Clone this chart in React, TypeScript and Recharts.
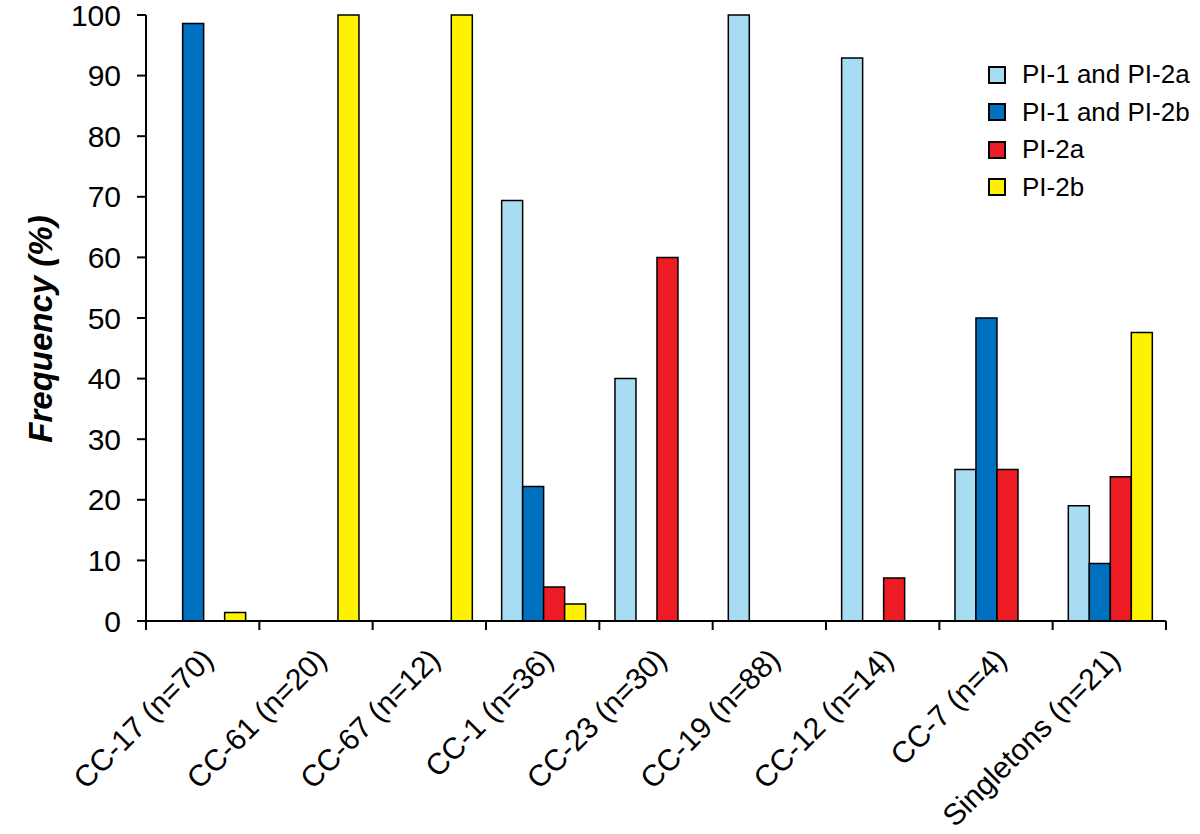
import React from "react";
import { BarChart, Bar, XAxis, YAxis, Legend, Label } from "recharts";

const categories = [
  "CC-17 (n=70)",
  "CC-61 (n=20)",
  "CC-67 (n=12)",
  "CC-1 (n=36)",
  "CC-23 (n=30)",
  "CC-19 (n=88)",
  "CC-12 (n=14)",
  "CC-7 (n=4)",
  "Singletons (n=21)",
];

// null = no isolates in that group (no bar drawn)
const pi1And2a = [null, null, null, 69.4, 40, 100, 92.9, 25, 19.0];
const pi1And2b = [98.6, null, null, 22.2, null, null, null, 50, 9.5];
const pi2a = [null, null, null, 5.6, 60, null, 7.1, 25, 23.8];
const pi2b = [1.4, 100, 100, 2.8, null, null, null, null, 47.6];

const yTicks = [0, 10, 20, 30, 40, 50, 60, 70, 80, 90, 100];

const series = [
  { key: "a", name: "PI-1 and PI-2a", color: "#A7DCF2", values: pi1And2a },
  { key: "b", name: "PI-1 and PI-2b", color: "#0070C0", values: pi1And2b },
  { key: "c", name: "PI-2a", color: "#ED1C24", values: pi2a },
  { key: "d", name: "PI-2b", color: "#FFF200", values: pi2b },
];

const data = categories.map((cat, i) => {
  const row: Record<string, string | number | null> = { cat };
  series.forEach((s) => {
    row[s.key] = s.values[i];
  });
  return row;
});

const FONT = "'Liberation Sans', Arial, Helvetica, sans-serif";

function XTick(props: any) {
  const { x, y, payload, index, visibleTicksCount } = props;
  const half = payload.offset || 0;
  const axisY = y - 9;
  const last = index === (visibleTicksCount ?? categories.length) - 1;
  return (
    <g>
      <line x1={x - half} x2={x - half} y1={axisY} y2={axisY + 9} stroke="#000" strokeWidth={2} />
      {last && (
        <line x1={x + half} x2={x + half} y1={axisY} y2={axisY + 9} stroke="#000" strokeWidth={2} />
      )}
      <text
        x={x + 5}
        y={axisY + 33}
        transform={`rotate(-45 ${x + 5} ${axisY + 33})`}
        textAnchor="end"
        dominantBaseline="central"
        fontSize={30}
        fontFamily={FONT}
        fill="#000"
      >
        {payload.value}
      </text>
    </g>
  );
}

function YTitle(props: any) {
  const { viewBox } = props;
  const cx = 40;
  const cy = viewBox.y + viewBox.height / 2 + 11;
  return (
    <text
      x={cx}
      y={cy}
      transform={`rotate(-90 ${cx} ${cy})`}
      textAnchor="middle"
      dominantBaseline="central"
      fontSize={33}
      fontWeight="bold"
      fontStyle="italic"
      fontFamily={FONT}
      fill="#000"
    >
      Frequency (%)
    </text>
  );
}

function LegendBox() {
  return (
    <div style={{ fontFamily: FONT }}>
      {series.map((s) => (
        <div
          key={s.key}
          style={{ display: "flex", alignItems: "center", height: 37.5, fontSize: 26, color: "#000" }}
        >
          <span
            style={{
              display: "inline-block",
              width: 14,
              height: 14,
              background: s.color,
              border: "2px solid #000",
              marginRight: 16,
            }}
          />
          {s.name}
        </div>
      ))}
    </div>
  );
}

export default function App() {
  return (
    <div style={{ position: "absolute", left: 0, top: 0, background: "#fff" }}>
      <BarChart
        width={1200}
        height={834}
        data={data}
        margin={{ top: 15, right: 34, bottom: 0, left: 0 }}
        barCategoryGap="13.8%"
        barGap={0}
      >
        <XAxis
          dataKey="cat"
          height={213}
          interval={0}
          tickSize={9}
          tickMargin={0}
          tickLine={false}
          axisLine={{ stroke: "#000", strokeWidth: 2 }}
          tick={<XTick />}
        />
        <YAxis
          width={146}
          domain={[0, 100]}
          ticks={yTicks}
          interval={0}
          tickSize={9}
          tickMargin={16}
          axisLine={{ stroke: "#000", strokeWidth: 2 }}
          tickLine={{ stroke: "#000", strokeWidth: 2 }}
          tick={{ fill: "#000", fontSize: 30, fontFamily: FONT }}
        >
          <Label content={<YTitle />} />
        </YAxis>
        <Legend
          layout="horizontal"
          verticalAlign="middle"
          align="center"
          content={<LegendBox />}
          wrapperStyle={{ top: 56, left: 988, width: 212, height: 160 }}
        />
        {series.map((s) => (
          <Bar
            key={s.key}
            dataKey={s.key}
            name={s.name}
            fill={s.color}
            stroke="#000"
            strokeWidth={1.5}
            isAnimationActive={false}
          />
        ))}
      </BarChart>
    </div>
  );
}
